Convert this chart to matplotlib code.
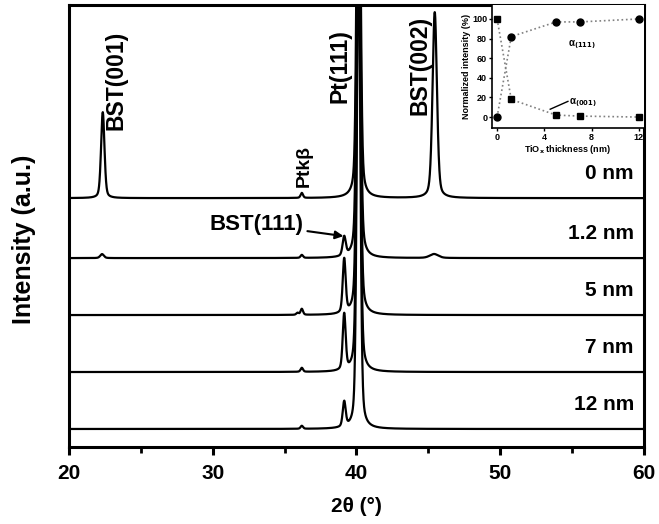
import matplotlib
matplotlib.use("Agg")
import matplotlib.pyplot as plt
import numpy as np

plt.rcParams['font.family'] = ['Liberation Sans', 'DejaVu Sans']
plt.rcParams['font.weight'] = 'bold'

# XRD traces: baseline offset and peaks (position, height, half width) per sample
samples = ['0 nm', '1.2 nm', '5 nm', '7 nm', '12 nm']
offsets = [249, 189, 132, 75, 18]
peak_pos = [
    [22.35, 36.2, 40.15, 45.45],
    [22.3, 36.2, 39.15, 40.15, 45.4],
    [35.9, 36.2, 39.15, 40.15],
    [36.2, 39.15, 40.15],
    [36.2, 39.15, 40.15],
]
peak_h = [
    [86, 5, 500, 186],
    [4, 3, 19, 500, 4],
    [2, 6, 54, 500],
    [4, 56, 500],
    [3, 25, 500],
]
peak_w = [
    [0.14, 0.1, 0.14, 0.18],
    [0.15, 0.1, 0.13, 0.14, 0.35],
    [0.1, 0.1, 0.12, 0.14],
    [0.1, 0.12, 0.14],
    [0.1, 0.12, 0.14],
]

# inset: normalized intensity vs TiOx thickness
thick = [0, 1.2, 5, 7, 12]
a111 = [0, 82, 97, 97, 100]
a001 = [100, 18, 2, 1, 0]

fig = plt.figure(figsize=(6.59, 5.24), dpi=100)
ax = fig.add_axes([0.1047, 0.147, 0.8723, 0.843])

tt = np.linspace(20, 60, 4000)
for name, off, pp, hh, ww in zip(samples, offsets, peak_pos, peak_h, peak_w):
    y = np.zeros_like(tt) + off
    for p, h, w in zip(pp, hh, ww):
        d = (tt - p) / w
        y += h * (0.35 / (1 + d**2) + 0.65 * np.exp(-np.log(2) * d**2))
    ax.plot(tt, y, color='black', lw=1.6)
    ax.text(59.3, off + 15, name, ha='right', va='bottom', fontsize=15, fontweight='bold')

ax.set_xlim(20, 60)
ax.set_ylim(0, 442)
ax.set_xticks([20, 30, 40, 50, 60])
ax.set_xticks([25, 35, 45, 55], minor=True)
ax.set_yticks([])
ax.tick_params(axis='x', which='major', length=6, width=2.2, labelsize=15, pad=6)
ax.tick_params(axis='x', which='minor', length=4, width=2)
for lbl in ax.get_xticklabels():
    lbl.set_fontweight('bold')
for s in ax.spines.values():
    s.set_linewidth(2.2)
ax.set_xlabel('2θ (°)', fontsize=15, fontweight='bold', labelpad=10)
ax.set_ylabel('Intensity (a.u.)', fontsize=18, fontweight='bold')
ax.yaxis.set_label_coords(-0.058, 0.47)

ax.text(23.3, 317, 'BST(001)', rotation=90, ha='center', va='bottom', fontsize=16.5, fontweight='bold')
ax.text(36.35, 260, 'Ptkβ', rotation=90, ha='center', va='bottom', fontsize=14, fontweight='bold')
ax.text(38.85, 344, 'Pt(111)', rotation=90, ha='center', va='bottom', fontsize=16.5, fontweight='bold')
ax.text(44.4, 332, 'BST(002)', rotation=90, ha='center', va='bottom', fontsize=16.5, fontweight='bold')
ax.annotate('BST(111)', xy=(39.1, 211), xytext=(36.3, 223), ha='right', va='center',
            fontsize=16, fontweight='bold',
            arrowprops=dict(arrowstyle='-|>', color='black', lw=1.5, shrinkA=1, shrinkB=0,
                            mutation_scale=12))

# inset
ins = fig.add_axes([0.7466, 0.756, 0.2304, 0.234])
ins.plot(thick, a111, color='gray', ls=':', lw=1.2, marker='o', ms=5,
         mfc='black', mec='black')
ins.plot(thick, a001, color='gray', ls=':', lw=1.2, marker='s', ms=4.5,
         mfc='black', mec='black')
ins.set_xlim(-0.43, 12.43)
ins.set_ylim(-11, 114)
ins.set_xticks([0, 4, 8, 12])
ins.set_yticks([0, 20, 40, 60, 80, 100])
ins.tick_params(labelsize=6.5, length=2.5, width=1, pad=1)
for lbl in ins.get_xticklabels() + ins.get_yticklabels():
    lbl.set_fontweight('bold')
ins.spines['top'].set_visible(False)
ins.spines['right'].set_visible(False)
ins.spines['left'].set_linewidth(1.2)
ins.spines['bottom'].set_linewidth(1.2)
ins.set_xlabel('TiO$_\\mathbf{x}$ thickness (nm)', fontsize=6.5, fontweight='bold', labelpad=1)
ins.set_ylabel('Normalized intensity (%)', fontsize=6.5, fontweight='bold', labelpad=1)
ins.text(6.0, 72, 'α$_{(111)}$', fontsize=7, fontweight='bold')
ins.text(6.1, 13, 'α$_{(001)}$', fontsize=7, fontweight='bold')
ins.plot([4.5, 6.0], [8, 16], color='black', lw=1)

fig.savefig('out.png', dpi=100)
